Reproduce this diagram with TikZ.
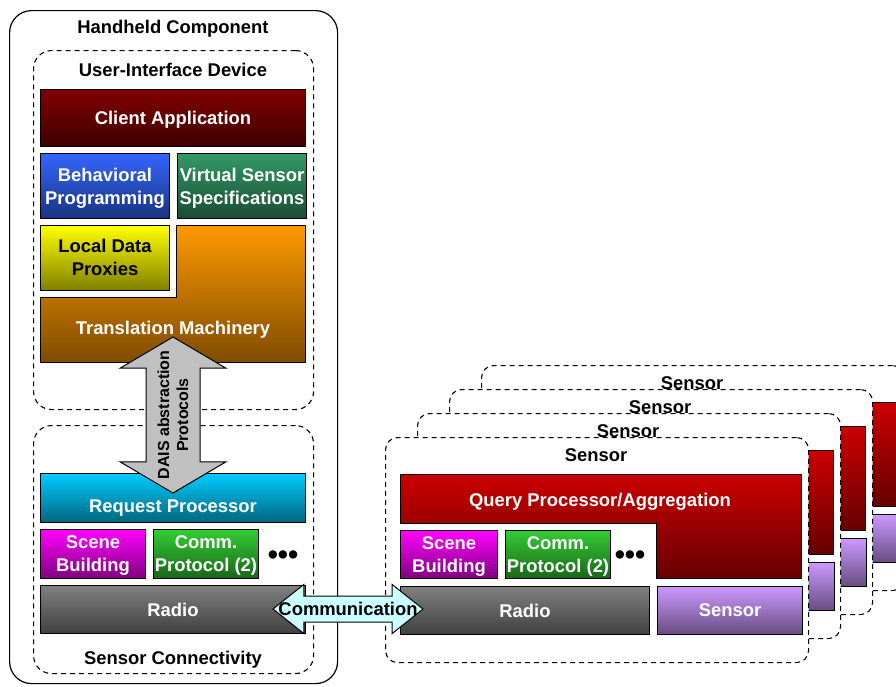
\documentclass[tikz,border=0pt]{standalone}
\usepackage{fontspec}
\setmainfont{Liberation Sans}
\usetikzlibrary{shapes.arrows,positioning,calc}

\definecolor{clientTop}{HTML}{800000}
\definecolor{clientBot}{HTML}{3F0000}
\definecolor{behTop}{HTML}{3366FF}
\definecolor{behBot}{HTML}{1A337F}
\definecolor{virtTop}{HTML}{339966}
\definecolor{virtBot}{HTML}{1A4C33}
\definecolor{locTop}{HTML}{FFFF00}
\definecolor{locBot}{HTML}{7F7F00}
\definecolor{transTop}{HTML}{FF9900}
\definecolor{transBot}{HTML}{7F4C00}
\definecolor{reqTop}{HTML}{00CCFF}
\definecolor{reqBot}{HTML}{00667F}
\definecolor{sceneTop}{HTML}{FF00FF}
\definecolor{sceneBot}{HTML}{7F007F}
\definecolor{commTop}{HTML}{33CC33}
\definecolor{commBot}{HTML}{1A661A}
\definecolor{radioTop}{HTML}{808080}
\definecolor{radioBot}{HTML}{404040}
\definecolor{qpTop}{HTML}{CC0000}
\definecolor{qpBot}{HTML}{660000}
\definecolor{sensTop}{HTML}{CC99FF}
\definecolor{sensBot}{HTML}{664C7F}
\definecolor{daisGray}{HTML}{C0C0C0}
\definecolor{linkCyan}{HTML}{CCFFFF}

\newcommand{\diagfont}{\fontsize{18.4}{23}\selectfont\bfseries}
\newcommand{\arrowfont}{\fontsize{16}{19}\selectfont\bfseries}
\newcommand{\dotsfont}{\fontsize{29}{29}\selectfont\bfseries}
% labels inside a sensor only show on the front one
\newcommand{\onfront}[1]{\ifnum\i=0 #1\fi}

\begin{document}
\begin{tikzpicture}[
  x=1pt, y=-1pt,
  blk/.style={draw, line width=1pt, anchor=north west, align=center, inner sep=0pt, text depth=0pt, text=white, font=\diagfont},
  grad/.style 2 args={top color=#1, bottom color=#2},
  grp/.style={draw, dash pattern=on 5pt off 4pt, line width=1.1pt, fill=white, anchor=north west, inner sep=0pt},
  ttl/.style={font=\diagfont, text depth=0pt},
  fat/.style={draw, line width=1pt, double arrow, inner xsep=0pt},
  dots/.style={font=\dotsfont, inner sep=0pt}
]
\path[use as bounding box, clip] (0,0) rectangle (896,686);

% handheld side
\node[draw, line width=1.2pt, rounded corners=22pt, anchor=north west, minimum width=328, minimum height=673] (hh) at (9,10) {};
\node[ttl] (hhT) at (173,27) {Handheld Component};

\node[grp, rounded corners=18pt, minimum width=280, minimum height=359] (uid) at (33,50) {};
\node[ttl] (uidT) at (173,70) {User-Interface Device};
\node[blk, grad={clientTop}{clientBot}, minimum width=265, minimum height=57] (client) at (40,89) {Client Application};
\node[blk, grad={behTop}{behBot}, minimum width=129, minimum height=65] (behav) at (40,153) {Behavioral\\Programming};
\node[blk, grad={virtTop}{virtBot}, minimum width=129, minimum height=65, right=7pt of behav] (virt) {Virtual Sensor\\Specifications};
\node[blk, grad={locTop}{locBot}, text=black, text depth=2pt, minimum width=129, minimum height=65] (local) at (40,225) {Local Data\\Proxies};
\draw[grad={transTop}{transBot}, line width=1pt] (176,225) -- (305,225) -- (305,362) -- (40,362) -- (40,297) -- (176,297) -- cycle;
\node[ttl, text=white] (trans) at (173,328) {Translation Machinery};

\node[grp, rounded corners=18pt, minimum width=280, minimum height=248] (conn) at (33,425) {};
\node[ttl] (connT) at (173,658) {Sensor Connectivity};
\node[blk, grad={reqTop}{reqBot}, text height=28pt, minimum width=265, minimum height=49] (req) at (40,473) {Request Processor};
\node[blk, grad={sceneTop}{sceneBot}, minimum width=105, minimum height=49] (scene) at (40,529) {Scene\\Building};
\node[blk, grad={commTop}{commBot}, minimum width=105, minimum height=49, right=7pt of scene] (comm) {Comm.\\Protocol (2)};
\node[dots] (more) at (283,558) {•••};
\node[blk, grad={radioTop}{radioBot}, minimum width=265, minimum height=48] (radio) at (40,585) {Radio};

% stacked sensors, back to front
\foreach \i in {3,2,1,0}{
  \begin{scope}[shift={(32*\i,-24*\i)}]
    \node[grp, rounded corners=12pt, minimum width=423, minimum height=225] (sen\i) at (385,437) {};
    \node[ttl] (senT\i) at (596,455) {Sensor};
    \draw[grad={qpTop}{qpBot}, line width=1pt] (400,474) -- (801,474) -- (801,578) -- (656,578) -- (656,523) -- (400,523) -- cycle;
    \node[ttl, text=white] (qp\i) at (600,500) {\onfront{Query Processor/Aggregation}};
    \node[blk, grad={sceneTop}{sceneBot}, minimum width=97, minimum height=48] (sc\i) at (400,530) {\onfront{Scene\\Building}};
    \node[blk, grad={commTop}{commBot}, minimum width=105, minimum height=48, right=7pt of sc\i] (cp\i) {\onfront{Comm.\\Protocol (2)}};
    \node[dots] (more\i) at (630,558) {\onfront{•••}};
    \node[blk, grad={radioTop}{radioBot}, minimum width=249, minimum height=48] (srad\i) at (400,586) {\onfront{Radio}};
    \node[blk, grad={sensTop}{sensBot}, minimum width=145, minimum height=48, right=7pt of srad\i] (sdev\i) {\onfront{Sensor}};
  \end{scope}
}

% fat arrows
\node[fat, fill=daisGray, rotate=90, inner ysep=26.5pt, minimum height=156, minimum width=105, double arrow head extend=26pt, double arrow tip angle=119] (dais) at (173,415) {};
\node[font=\arrowfont, rotate=90, align=center] (daisT) at (dais.center) {DAIS abstraction\\Protocols};
\node[fat, fill=linkCyan, inner ysep=12.5pt, minimum height=150, minimum width=48, double arrow head extend=11.5pt, double arrow tip angle=77] (link) at (348,609) {};
\node[font=\diagfont, text depth=0pt] (linkT) at (link.center) {Communication};

\end{tikzpicture}
\end{document}
